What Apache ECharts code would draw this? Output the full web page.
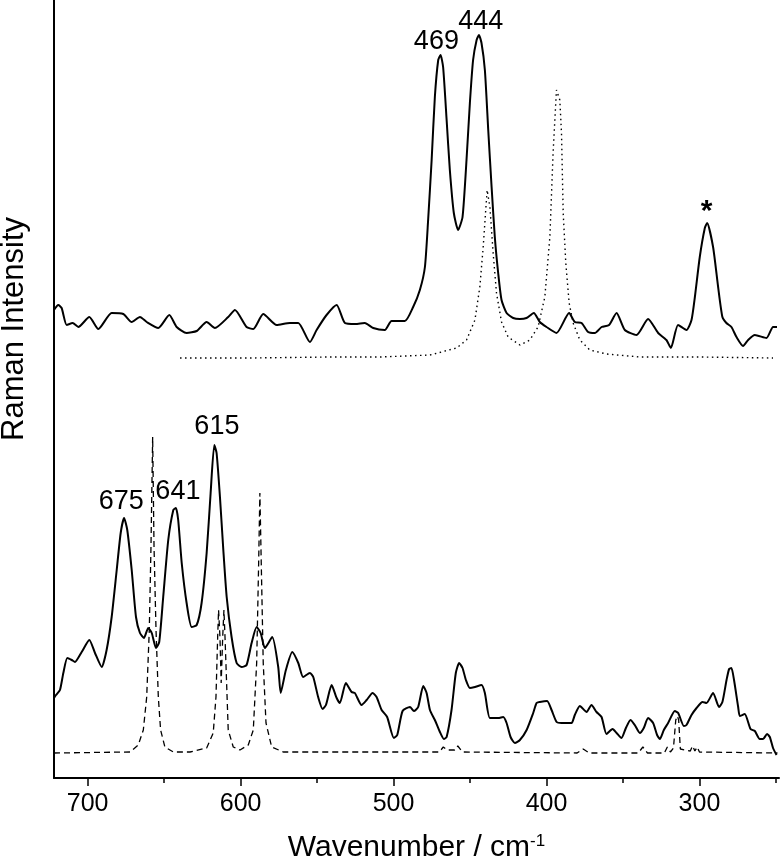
<!DOCTYPE html>
<html>
<head>
<meta charset="utf-8">
<title>Raman spectra</title>
<script src="https://cdn.jsdelivr.net/npm/echarts@6/dist/echarts.min.js"></script>
<style>
  html, body { margin: 0; padding: 0; background: #fff; }
  #main { width: 780px; height: 861px; }
</style>
</head>
<body>
<div id="main"></div>
<script>
// wavenumber range of the axis (inverted, high -> low)
var xMin = 248, xMax = 722;
var majorTicks = [300, 400, 500, 600, 700];
var minorTicks = [250, 350, 450, 550, 650];

// upper trace, measured spectrum [wavenumber, intensity a.u.]
var topObserved = [
  [722,468],[719.2,473],[717,470],[713.7,453],[709.8,455],[706.1,451],[698.9,461],[693,449],
  [684.3,465],[676.7,464],[671.2,456],[665.8,461],[661.4,456],[653.8,450],[646.6,463],[641.8,451],
  [635.3,445],[628.7,447],[622.2,456],[616.8,450],[608.1,461],[603.7,468],[596.1,451],[591.7,449],
  [585.2,464],[576.4,453],[567.8,455],[562.3,455],[554.7,436],[550.3,448],[543.8,463],[537.2,473],
  [531.8,455],[525,454],[518.8,455],[513.3,450],[505.7,448],[501.3,457],[492.6,457],[487.2,471],
  [482.8,488],[479.5,511],[477.4,558],[475.1,618],[473,681],[470.8,718],[469.3,723],[467.6,711],
  [465.3,658],[463.2,608],[460.6,565],[457.8,548],[454.9,561],[452.3,618],[450.1,675],[448,718],
  [445.7,738],[444.2,743],[442.5,735],[440.3,708],[438.1,648],[435.9,591],[433.8,541],[431.6,505],
  [429.4,478],[426.1,465],[421.8,460],[417.4,459],[413.1,460],[408.3,465],[404.4,456],[400,451],
  [393.5,445],[385.2,465],[381.5,456],[377.1,455],[372.8,446],[368.4,445],[364,451],[359.1,453],
  [354.2,465],[348.8,448],[341.2,443],[333.6,459],[327,445],[321.6,438],[318.7,430],[314,453],
  [308.5,448],[305.2,458],[303,481],[299.8,521],[296.5,550],[295,555],[291.1,531],[287.8,491],
  [285,461],[282.4,455],[279.1,451],[275.8,441],[271.5,432],[268.2,438],[263.8,443],[256.2,440],
  [251.9,451],[249.3,451]
];

// upper trace, calculated spectrum (dotted)
var topCalculated = [
  [639.6,420],[593.9,420],[541.6,421],[508.9,421],[476.2,423],[458.8,430],[452.3,438],[446.8,458],
  [443.6,491],[441.4,531],[439.6,571],[438.8,588],[437,571],[434.9,525],[432.7,485],[429.4,456],
  [425.1,441],[417.4,433],[410.9,438],[405.5,451],[401.1,481],[397.8,541],[395.7,625],[393.5,688],
  [391.3,678],[390.2,645],[389.1,565],[387.4,515],[385.2,475],[382.6,455],[378.2,438],[371.7,428],
  [360.8,424],[339,421],[299.8,421],[251.9,420]
];

// lower trace, measured spectrum
var bottomObserved = [
  [722,80],[720.7,83],[718.1,88],[715.9,105],[713.3,120],[710.4,118],[708.3,116],[703.9,126],
  [698.9,138],[695.2,125],[690.8,111],[687.6,128],[684.3,161],[681,208],[678.4,245],[676.2,260],
  [674.1,248],[671.2,208],[668.4,161],[665.8,145],[663.2,140],[660.4,150],[658.1,145],[655.3,130],
  [653.2,136],[650.6,181],[647.3,238],[644,268],[642.3,270],[640.8,258],[638.5,215],[635.3,175],
  [632,151],[628.7,153],[625.5,175],[622.2,225],[619.6,285],[617.2,333],[615.7,325],[613.5,281],
  [611.3,228],[609.1,181],[605.9,141],[602.6,115],[599.3,111],[596.1,113],[592.8,135],[589.5,151],
  [586.9,145],[584.1,130],[579.3,141],[575.4,111],[573.8,85],[570.4,108],[566.2,126],[562.3,115],
  [559.1,101],[554.7,105],[552.5,101],[549.3,81],[546.4,69],[544.2,73],[540.5,93],[537.2,80],
  [535.1,75],[531.2,95],[527.4,86],[525.3,85],[520.9,73],[517.6,78],[513.7,85],[511.1,81],
  [507.8,68],[504.2,61],[499.8,40],[497.6,43],[494.1,67],[489.3,71],[486.7,67],[483.9,71],
  [480.6,92],[478.4,85],[476.2,68],[473,58],[469.7,46],[467.1,39],[465.3,41],[462.1,68],
  [459.3,105],[457.1,115],[454.9,110],[452.7,98],[450.1,90],[446.8,91],[442.5,93],[440.3,85],
  [437,60],[431.6,60],[428.3,61],[426.1,55],[423.5,41],[420.7,35],[417.4,38],[413,48],
  [408.7,65],[406.5,75],[404.4,76],[399.6,77],[396.7,68],[393.4,56],[390.2,55],[386.9,55],
  [383.6,55],[381.5,63],[378.2,72],[373.8,66],[370.6,73],[367.3,66],[364,61],[360.8,44],
  [356.8,49],[354.2,45],[351,40],[348.1,50],[345.1,58],[342.3,53],[339,45],[336.4,50],
  [333.6,60],[330.3,55],[327.7,43],[325.9,39],[323.3,48],[320.5,55],[316.1,67],[313.9,65],
  [310.2,52],[308.5,53],[305.2,63],[301.9,70],[298,76],[295.4,75],[291.1,85],[287.2,71],
  [285,76],[282.3,98],[280.6,109],[279.1,110],[277.4,98],[274.7,71],[273.6,62],[270.4,64],
  [266.6,49],[263.8,47],[260.6,39],[258.4,39],[255.8,44],[254,41],[251.9,30],[249.6,23]
];

// lower trace, calculated spectrum (dashed)
var bottomCalculated = [
  [722,25],[672.3,26],[666.9,33],[663.6,48],[661.4,81],[659.7,148],[658.6,231],[657.5,341],
  [656.6,231],[655.3,148],[653.8,81],[652.3,48],[649.5,31],[644,26],[633.1,26],[622.2,30],
  [617.9,45],[616.1,81],[615,141],[614.4,168],[613.5,141],[612.7,95],[611.7,141],[610.9,168],
  [610.2,141],[609.6,115],[608.1,48],[604.8,31],[600.4,28],[595,33],[591.7,48],[589.5,115],
  [588.2,215],[587.4,285],[586.5,215],[585.2,115],[583.4,55],[579.7,31],[572.1,26],[470,26],
  [467.5,31],[465,28],[460,28],[458,32],[455,26],[380,25],[376,29],[372,25],[340,25],
  [337,31],[334,25],[323,25],[321,31],[319,26],[317,30],[315.5,58],[314.4,62],[313.6,58],
  [312.5,29],[306,27],[304.5,32],[303,27],[301.5,31],[300,26],[249,25]
];

// peak annotations: text, wavenumber, intensity of the label centre
var peakNames = ['469', '444', '*', '675', '641', '615'];
var peakPos = [[472,736], [443,756], [295.4,566], [678,276], [641,286], [615.5,351]];

var labelFont = "'Liberation Sans', Arial, sans-serif";

var peakData = [];
for (var i = 0; i < peakNames.length; i++) {
  var item = { name: peakNames[i], value: peakPos[i] };
  if (peakNames[i] == '*') {
    item.label = { fontSize: 30, fontWeight: 'bold' };
  }
  peakData.push(item);
}

var myChart = echarts.init(document.getElementById('main'));
var option = {
  animation: false,
  backgroundColor: '#fff',
  grid: { left: 54, right: 1, top: 0, bottom: 83, outerBoundsMode: 'none' },
  xAxis: [
    {
      type: 'value', inverse: true, min: xMin, max: xMax,
      axisLine: { show: true, onZero: false, lineStyle: { color: '#000', width: 2 } },
      axisTick: { show: true, customValues: majorTicks, length: 8, lineStyle: { color: '#000', width: 1.5 } },
      axisLabel: { customValues: majorTicks, margin: 14, color: '#000', fontSize: 25, fontFamily: labelFont },
      splitLine: { show: false },
      name: 'Wavenumber / cm{sup|-1}',
      nameLocation: 'middle',
      nameGap: 55,
      nameTextStyle: {
        color: '#000', fontSize: 30, fontFamily: labelFont,
        rich: { sup: { fontSize: 17, fontFamily: labelFont, color: '#000', verticalAlign: 'top', padding: [0, 0, 12, 0] } }
      }
    },
    {
      // minor ticks
      type: 'value', inverse: true, min: xMin, max: xMax, position: 'bottom',
      axisLine: { show: false },
      axisTick: { show: true, customValues: minorTicks, length: 5, lineStyle: { color: '#000', width: 1.5 } },
      axisLabel: { show: false },
      splitLine: { show: false }
    }
  ],
  yAxis: {
    type: 'value', min: 0, max: 778,
    axisLine: { show: true, onZero: false, lineStyle: { color: '#000', width: 2 } },
    axisTick: { show: false },
    axisLabel: { show: false },
    splitLine: { show: false }
  },
  graphic: [
    {
      type: 'text', x: 14, y: 329, rotation: Math.PI / 2,
      style: { text: 'Raman Intensity', x: 0, y: 0, align: 'center', verticalAlign: 'middle',
               fontSize: 31, fontFamily: labelFont, fill: '#000' }
    }
  ],
  series: [
    {
      name: 'top calc', type: 'line', data: topCalculated, showSymbol: false, symbol: 'none',
      lineStyle: { color: '#000', width: 1.4, type: [1.5, 3.5] }
    },
    {
      name: 'top obs', type: 'line', data: topObserved, showSymbol: false, symbol: 'none', smooth: 0.2,
      lineStyle: { color: '#000', width: 2 }
    },
    {
      name: 'bottom calc', type: 'line', data: bottomCalculated, showSymbol: false, symbol: 'none',
      lineStyle: { color: '#000', width: 1.3, type: [6, 4] }
    },
    {
      name: 'bottom obs', type: 'line', data: bottomObserved, showSymbol: false, symbol: 'none', smooth: 0.2,
      lineStyle: { color: '#000', width: 2 }
    },
    {
      name: 'peaks', type: 'scatter', data: peakData, symbolSize: 0, silent: true,
      itemStyle: { color: '#000', opacity: 1 },
      label: {
        show: true, position: [0, 0], align: 'center', verticalAlign: 'middle', opacity: 1,
        formatter: function (p) { return p.name; },
        color: '#000', textBorderWidth: 0, fontSize: 27, fontFamily: labelFont
      }
    }
  ]
};
myChart.setOption(option);
</script>
</body>
</html>
